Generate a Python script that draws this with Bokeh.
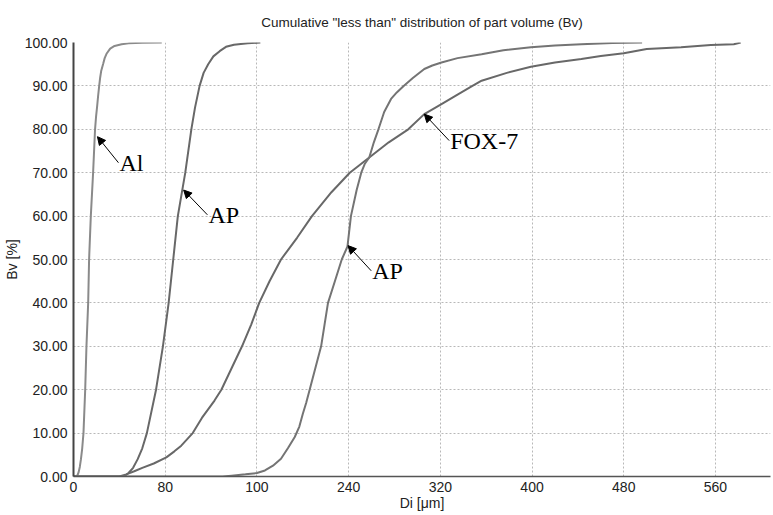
from bokeh.plotting import figure
from bokeh.models import Range1d, FixedTicker, Arrow, NormalHead, ColumnDataSource
from bokeh.core.properties import value
from bokeh.embed import file_html
from bokeh.resources import INLINE

# ---- data ----
al_x = [0, 2.5, 3.5, 4.5, 5.5, 6.5, 7.6, 8.7, 10.2, 11.3, 12.8, 13.6, 15.1, 17.1, 18.8, 19.7, 20.5, 21.4, 22.4, 23.3, 24.2, 25.9, 27.2, 28.8, 32, 35.8, 42, 48, 60, 77]
al_y = [0, 0, 0.3, 1, 2.2, 4, 6.5, 10, 20, 30, 40, 50, 60, 70, 80, 83, 85, 87.5, 90, 92, 93.5, 95.1, 96.4, 97.4, 98.6, 99.2, 99.6, 99.8, 99.95, 100]

ap1_x = [0, 44, 48, 52, 56, 60, 64, 72, 78, 83, 87, 91, 97.5, 102.8, 106, 110, 113.5, 117.5, 122, 127.5, 133, 140, 152, 163]
ap1_y = [0, 0, 0.8, 2, 4, 6.5, 10, 20, 30, 40, 50, 60, 70, 80, 85, 90, 93, 95, 96.8, 98, 99, 99.5, 99.8, 100]

fox_x = [0, 40, 46, 53, 60, 70, 81, 88, 94, 104, 112, 123, 129, 138, 147, 155, 162, 171, 181, 195, 208, 225, 241, 258, 275, 292, 306, 321, 335, 348, 356, 378, 399, 420, 443, 460, 480, 500, 530, 556, 576, 582]
fox_y = [0, 0, 0.5, 1.2, 2, 3, 4.4, 5.8, 7.1, 10, 13.5, 17.5, 20, 25, 30, 35, 40, 45, 50, 55, 60, 65.5, 70, 73.5, 77, 80, 83.5, 85.8, 88, 90, 91.2, 93, 94.4, 95.4, 96.2, 96.9, 97.5, 98.5, 98.9, 99.4, 99.6, 100]

ap2_x = [0, 130, 138, 150, 160, 167, 174, 181, 187, 193, 197, 200, 203, 206, 211, 216, 219, 222, 228, 234, 239, 242, 247, 251, 254, 258, 262, 266, 271, 277, 282, 288, 296, 306, 313, 321, 335, 356, 375, 399, 420, 443, 470, 496]
ap2_y = [0, 0, 0.2, 0.5, 0.8, 1.4, 2.5, 4.1, 6.5, 9.1, 11.5, 14.4, 17, 20, 25, 30, 35, 40, 45, 50, 53, 60, 66, 70, 72, 73.5, 77, 80, 84, 87, 88.5, 90, 91.8, 93.9, 94.7, 95.4, 96.4, 97.3, 98.2, 98.9, 99.3, 99.6, 99.9, 100]

# annotation labels: text, arrow tip (on curve), arrow tail / label anchor
ann_text = ["Al", "AP", "FOX-7", "AP"]
ann_tip_x = [20.9, 96.1, 306, 239.5]
ann_tip_y = [78.3, 66.0, 83.5, 53.2]
ann_tail_x = [39.2, 116.8, 327.7, 259.7]
ann_tail_y = [72.3, 60.3, 77.4, 47.4]

title_text = 'Cumulative "less than" distribution of part volume (Bv)'
x_ticks = [0, 80, 160, 240, 320, 400, 480, 560]
x_tick_labels = ["0", "80", "100", "240", "320", "400", "480", "560"]
y_ticks = [0, 10, 20, 30, 40, 50, 60, 70, 80, 90, 100]

# ---- figure ----
p = figure(width=773, height=515, output_backend="svg", toolbar_location=None,
           x_range=Range1d(0, 608), y_range=Range1d(0, 100), title=title_text,
           min_border_left=72, min_border_right=3, min_border_top=42, min_border_bottom=39)
p.outline_line_color = None
p.background_fill_color = "white"
p.border_fill_color = "white"

p.title.align = "center"
p.title.text_font = "Liberation Sans"
p.title.text_font_size = "13.5px"
p.title.text_font_style = "normal"
p.title.text_color = "#222222"
p.title.standoff = 25

font = "Liberation Sans"
for ax in (p.xaxis[0], p.yaxis[0]):
    ax.major_label_text_font = font
    ax.major_label_text_font_size = "14px"
    ax.major_label_text_color = "#222222"
    ax.axis_label_text_font = font
    ax.axis_label_text_font_size = "14px"
    ax.axis_label_text_font_style = "normal"
    ax.axis_label_text_color = "#222222"
    ax.major_tick_out = 0
    ax.major_tick_in = 0
    ax.minor_tick_out = 0
    ax.minor_tick_in = 0

p.xaxis.axis_label = "Di [μm]"
p.yaxis.axis_label = "Bv [%]"
p.xaxis.ticker = FixedTicker(ticks=x_ticks)
p.xaxis.major_label_overrides = {t: l for t, l in zip(x_ticks, x_tick_labels)}
p.yaxis.ticker = FixedTicker(ticks=y_ticks)
p.yaxis.major_label_overrides = {t: f"{t:.2f}" for t in y_ticks}
p.xaxis.major_label_standoff = 5
p.xaxis.axis_label_standoff = 0
p.yaxis.major_label_standoff = 6
p.yaxis.axis_label_standoff = 2
p.xaxis.axis_line_color = "#555555"
p.xaxis.axis_line_width = 1.5
p.yaxis.axis_line_color = "#444444"
p.yaxis.axis_line_width = 2

p.xgrid.grid_line_color = "#b8b8b8"
p.ygrid.grid_line_color = "#b8b8b8"
p.xgrid.grid_line_dash = "2 2"
p.ygrid.grid_line_dash = "2 2"
p.xgrid.grid_line_width = 1
p.ygrid.grid_line_width = 1

p.line(al_x, al_y, line_color="#8a8a8a", line_width=2)
p.line(ap1_x, ap1_y, line_color="#686868", line_width=2)
p.line(fox_x, fox_y, line_color="#686868", line_width=2)
p.line(ap2_x, ap2_y, line_color="#747474", line_width=2)

for tx, ty, hx, hy in zip(ann_tail_x, ann_tail_y, ann_tip_x, ann_tip_y):
    p.add_layout(Arrow(end=NormalHead(size=8, fill_color="black", line_color="black"),
                       x_start=tx, y_start=ty, x_end=hx, y_end=hy,
                       line_color="black", line_width=1))

src = ColumnDataSource(dict(x=ann_tail_x, y=ann_tail_y, t=ann_text))
p.text(x="x", y="y", text="t", source=src, text_font=value("Liberation Serif"),
       text_font_size="24px", text_align="left", text_baseline="middle",
       text_color="black", x_offset=1)

open("out.html", "w").write(file_html(p, INLINE))
